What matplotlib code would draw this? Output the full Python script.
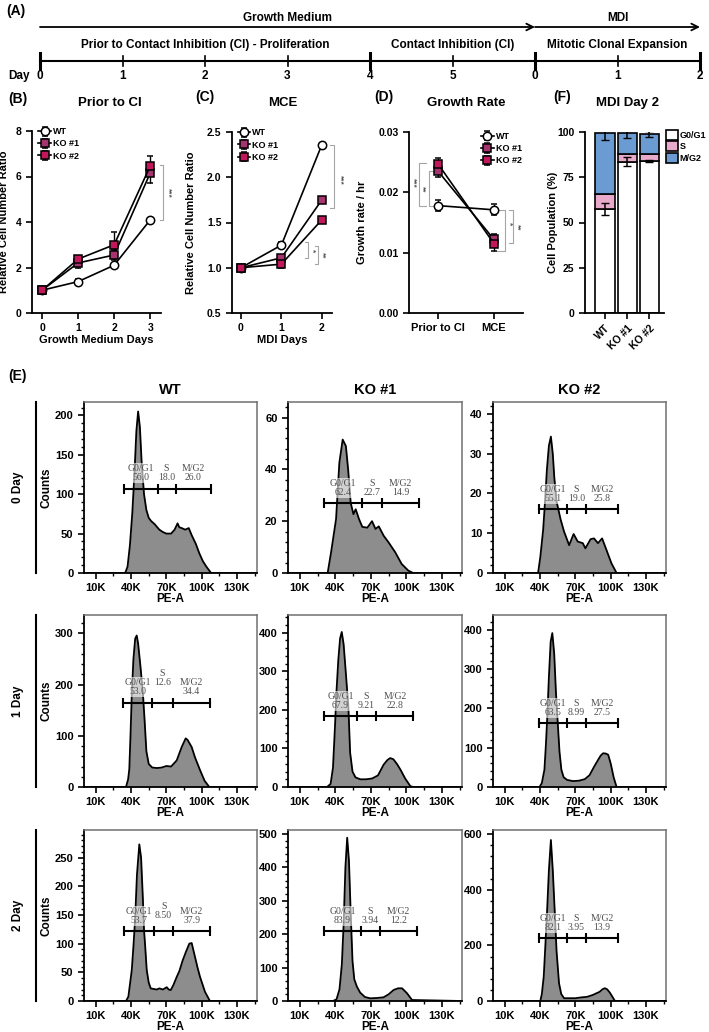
import matplotlib
matplotlib.use('Agg')
import matplotlib.pyplot as plt
from matplotlib.lines import Line2D
from matplotlib.ticker import AutoMinorLocator, FixedLocator

plt.rcParams['font.family'] = ['Liberation Sans', 'DejaVu Sans']
plt.rcParams['font.weight'] = 'bold'
plt.rcParams['axes.labelweight'] = 'bold'
plt.rcParams['axes.linewidth'] = 1.3

# ---------------- data ----------------
# (A) timeline
tl_days = [0, 1, 2, 3, 4, 5, 0, 1, 2]
tl_major = [0, 4, 6, 8]
phase_names = ['Prior to Contact Inhibition (CI) - Proliferation',
               'Contact Inhibition (CI)', 'Mitotic Clonal Expansion']
phase_mid = [2, 5, 7]
media_names = ['Growth Medium', 'MDI']
media_span = [(0, 6), (6, 8)]

# (B) relative cell number, growth medium
gm_days = [0, 1, 2, 3]
gm_wt = [1.0, 1.38, 2.1, 4.09]
gm_wt_err = [0.05, 0.1, 0.08, 0.06]
gm_ko1 = [1.0, 2.2, 2.55, 6.15]
gm_ko1_err = [0.05, 0.22, 0.2, 0.45]
gm_ko2 = [1.0, 2.37, 3.0, 6.46]
gm_ko2_err = [0.05, 0.15, 0.55, 0.42]

# (C) relative cell number, MDI
mdi_days = [0, 1, 2]
mdi_wt = [1.0, 1.25, 2.36]
mdi_wt_err = [0.01, 0.03, 0.01]
mdi_ko1 = [1.0, 1.11, 1.75]
mdi_ko1_err = [0.01, 0.03, 0.01]
mdi_ko2 = [1.0, 1.04, 1.53]
mdi_ko2_err = [0.01, 0.04, 0.01]

# (D) growth rate
phase_cats = ['Prior to CI', 'MCE']
rate_wt = [0.0178, 0.0171]
rate_wt_err = [0.0009, 0.0009]
rate_ko1 = [0.0235, 0.0122]
rate_ko1_err = [0.0010, 0.0009]
rate_ko2 = [0.0247, 0.0115]
rate_ko2_err = [0.0010, 0.0012]

# (F) cell cycle distribution, MDI day 2
genotypes = ['WT', 'KO #1', 'KO #2']
pop_g0g1 = [57.5, 83.5, 84.0]
pop_g0g1_err = [3.5, 2.5, 0.6]
pop_s = [8.5, 4.5, 4.0]
pop_mg2 = [33.5, 11.5, 11.0]
pop_mg2_err = [4.0, 3.0, 1.5]

# (E) flow histograms, PE-A in K vs counts
wt_d0_k = [0, 35, 37, 39, 41, 43, 44.5, 46, 47.5, 49, 51, 53, 55, 57, 60, 64, 67, 70, 74, 77, 79.5,
           81, 83, 86, 89, 91.5, 95, 98, 101, 104, 108, 147]
wt_d0_n = [0, 0, 8, 35, 75, 130, 180, 205, 185, 140, 100, 80, 70, 66, 62, 55, 52, 50, 50, 55, 63,
           58, 57, 55, 57, 48, 37, 25, 15, 8, 0, 0]
ko1_d0_k = [0, 33.5, 36.4, 40.6, 43.4, 46.2, 48.9, 50.8, 53, 55.3, 57.2, 60, 62.8, 67, 71, 73.9,
            76.7, 80.8, 85, 90.6, 96, 101.7, 105.8, 147]
ko1_d0_n = [0, 0, 8, 20.8, 42.6, 51.5, 49, 40, 27, 22.7, 24.6, 20.8, 17.8, 17.5, 20, 17,
            18, 14.4, 11.8, 8, 3.5, 0.9, 0, 0]
ko2_d0_k = [0, 38.3, 40.2, 42.6, 44, 45.8, 47.5, 49.2, 50.8, 52.1, 54, 57.5, 60.4, 64.7, 68.5, 72,
            76.3, 78.5, 82.9, 85.8, 89.2, 92.7, 96.4, 100.7, 105, 147]
ko2_d0_n = [0, 0, 4, 10.8, 17, 26, 32, 34.3, 30, 24, 18, 13.4, 10.4, 7, 9.8, 7.9,
            7.5, 6.2, 8.5, 8.7, 7.5, 8.7, 5.8, 2.4, 0, 0]
wt_d1_k = [0, 35.7, 37.5, 38.5, 39.5, 40.6, 42, 43.5, 44.8, 46, 48, 50, 51.5, 53, 55, 58, 62, 66,
           70, 74, 78.8, 83, 86.4, 88, 91.5, 94.3, 98.6, 102.5, 106.5, 147]
wt_d1_n = [0, 0, 15, 35, 100, 180, 250, 290, 296, 280, 235, 185, 130, 70, 45, 38, 37, 38,
           41, 40, 52, 78, 95, 92, 78, 58, 33, 12, 0, 0]
ko1_d1_k = [0, 33, 36, 38, 39.7, 41, 42.5, 44, 45.4, 47, 49, 51, 52.5, 54.5, 57, 61, 66, 71, 76,
            80.8, 84, 86.3, 89, 92, 95, 99, 103.4, 106, 147]
ko1_d1_n = [0, 0, 8, 50, 157, 250, 329, 385, 402, 370, 290, 208, 89, 40, 25, 20, 20, 22, 30,
            58, 70, 75, 72, 60, 45, 22, 2, 0, 0]
ko2_d1_k = [0, 39.5, 41.5, 43.7, 45, 46, 47.5, 49, 50.4, 52, 53.5, 55.2, 56.5, 58.1, 60, 63, 68,
            73, 78, 82, 85.8, 89.3, 91.5, 93.6, 96, 97.9, 100, 102.5, 105, 147]
ko2_d1_n = [0, 0, 10, 44, 110, 171, 280, 370, 392, 340, 240, 154, 90, 44, 25, 18, 15,
            16, 20, 30, 51, 69, 80, 86, 85, 82, 60, 25, 0, 0]
wt_d2_k = [0, 35.7, 37.7, 40.6, 42, 43.4, 45, 47, 48.5, 50, 51, 52, 53.3, 55, 56.7, 59, 61.8, 64,
           67, 70.3, 72, 73.7, 76, 78.8, 81, 83.9, 86.5, 89.5, 91.5, 94.3, 96.5, 98.6, 102.8, 107, 147]
wt_d2_n = [0, 0, 7.5, 54, 95, 141, 220, 273, 250, 180, 124, 95, 54, 32, 22, 21, 20, 22,
           20, 24, 20, 19, 28, 42, 52, 71, 85, 100, 101, 77, 58, 42, 16, 0, 0]
ko1_d2_k = [0, 38, 41, 43.5, 45.5, 47, 48.5, 50, 51.5, 53, 54.5, 56, 58.2, 61, 65, 69.4, 75,
            80.7, 85, 89.2, 93, 96.4, 100.6, 104.8, 147]
ko1_d2_n = [0, 0, 5, 35, 110, 230, 400, 489, 420, 260, 120, 65, 43, 25, 12, 8, 9,
            11, 20, 33, 38, 38, 23, 3, 0]
ko2_d2_k = [0, 40.2, 41.5, 43.1, 44.5, 46, 47.5, 49.2, 50.8, 52.4, 54, 56.1, 58, 60.4, 65, 70,
            75, 80, 85, 88, 90.6, 93, 95, 97, 99.3, 101.5, 103.6, 147]
ko2_d2_n = [0, 0, 25, 87, 200, 327, 470, 579, 470, 327, 180, 64, 25, 10, 10, 10,
            13, 15, 22, 28, 33, 42, 46, 42, 30, 15, 0, 0]

# gates: G0/G1 | S | M/G2 boundaries (K), gate height (counts), percentages
gate_bounds = [[34, 62.5, 77.8, 107.6], [30.2, 62.7, 79.5, 110.8], [39, 62.6, 79, 106],
               [33.4, 57.6, 75.4, 107], [30.4, 58.2, 74.5, 106], [39, 63, 79, 106],
               [34.3, 59.5, 75.9, 107], [30.8, 61.3, 77.7, 109], [39, 63, 79, 106]]
gate_level = [107, 27, 16, 165, 183, 163, 122, 210, 225]
gate_pct = [('56.0', '18.0', '26.0'), ('62.4', '22.7', '14.9'), ('55.1', '19.0', '25.8'),
            ('53.0', '12.6', '34.4'), ('67.9', '9.21', '22.8'), ('63.5', '8.99', '27.5'),
            ('53.7', '8.50', '37.9'), ('83.9', '3.94', '12.2'), ('82.1', '3.95', '13.9')]
hist_yticks = [[0, 50, 100, 150, 200], [0, 20, 40, 60], [0, 10, 20, 30, 40],
               [0, 100, 200, 300], [0, 100, 200, 300, 400], [0, 100, 200, 300, 400],
               [0, 50, 100, 150, 200, 250], [0, 100, 200, 300, 400, 500], [0, 200, 400, 600]]
pe_ticks = [10, 40, 70, 100, 130]
col_names = ['WT', 'KO #1', 'KO #2']
row_names = ['0 Day', '1 Day', '2 Day']

hist_k = [wt_d0_k, ko1_d0_k, ko2_d0_k, wt_d1_k, ko1_d1_k, ko2_d1_k, wt_d2_k, ko1_d2_k, ko2_d2_k]
hist_n = [wt_d0_n, ko1_d0_n, ko2_d0_n, wt_d1_n, ko1_d1_n, ko2_d1_n, wt_d2_n, ko1_d2_n, ko2_d2_n]

# ---------------- layout helpers ----------------
W, H = 709, 1032
KO1_C = '#A6356F'
KO2_C = '#C2185B'
fig = plt.figure(figsize=(W / 100, H / 100), dpi=100)


def rect(l, r, t, b):
    return [l / W, 1 - b / H, (r - l) / W, (b - t) / H]


def ftext(x, y, s, **kw):
    kw.setdefault('ha', 'center')
    kw.setdefault('va', 'center')
    fig.text(x / W, 1 - y / H, s, **kw)


def style_xy(ax):
    for s in ['top', 'right']:
        ax.spines[s].set_visible(False)
    ax.tick_params(direction='out', length=4, width=1.2, labelsize=7.5)


def bracket(ax, x, y0, y1, tick, label, lx, ly):
    ax.plot([x + tick, x, x, x + tick], [y0, y0, y1, y1], color='#a5a5a5', lw=0.8, clip_on=False)
    ax.text(lx, ly, label, rotation=270, ha='center', va='center', fontsize=6,
            color='#555555', clip_on=False)


def growth_lines(ax, x, series):
    for y, e, lab, mk, fc in series:
        ax.errorbar(x, y, yerr=e, color='black', lw=1.2, capsize=2.5, elinewidth=1,
                    marker=mk, ms=6 if mk == 'o' else 5.5, mfc=fc, mec='black', mew=1.1,
                    label=lab, zorder=3)


# ---------------- (A) timeline ----------------
ax_a = fig.add_axes(rect(0, W, 0, 90))
ax_a.set_xlim(-40 / 82.5, (W - 40) / 82.5)
ax_a.set_ylim(90, 0)
ax_a.axis('off')
for name, (a, b) in zip(media_names, media_span):
    ax_a.annotate('', xy=(b, 27), xytext=(a, 27),
                  arrowprops=dict(arrowstyle='->', lw=1.3, color='black', shrinkA=0, shrinkB=0,
                                  mutation_scale=12))
    ax_a.text((a + b) / 2, 18, name, ha='center', va='center', fontsize=8.5)
for name, m in zip(phase_names, phase_mid):
    ax_a.text(m, 45, name, ha='center', va='center', fontsize=8.5)
ax_a.plot([0, len(tl_days) - 1], [61, 61], color='black', lw=1.5)
for i, d in enumerate(tl_days):
    half = 8 if i in tl_major else 5
    lw = 2.2 if i in tl_major else 1.2
    ax_a.plot([i, i], [61 - half, 61 + half], color='black', lw=lw)
    ax_a.text(i, 76, str(d), ha='center', va='center', fontsize=8.5)
ax_a.text(-0.12, 76, 'Day', ha='right', va='center', fontsize=8.5)
ftext(6, 11, '(A)', ha='left', fontsize=10)

# ---------------- (B) ----------------
ax_b = fig.add_axes(rect(32, 161, 131, 313))
growth_lines(ax_b, gm_days, [(gm_wt, gm_wt_err, 'WT', 'o', 'white'),
                             (gm_ko1, gm_ko1_err, 'KO #1', 's', KO1_C),
                             (gm_ko2, gm_ko2_err, 'KO #2', 's', KO2_C)])
ax_b.set_xlim(-0.28, 3.3)
ax_b.set_ylim(0, 8)
ax_b.set_xticks(gm_days)
ax_b.set_yticks([0, 2, 4, 6, 8])
style_xy(ax_b)
ax_b.set_xlabel('Growth Medium Days', fontsize=8, labelpad=1)
ax_b.set_ylabel('Relative Cell Number Ratio', fontsize=8)
ax_b.yaxis.set_label_coords(-0.175, 0.5)
ax_b.legend(loc='upper left', bbox_to_anchor=(0.02, 1.04), frameon=False, fontsize=6.5,
            handlelength=1.4, handletextpad=0.2, labelspacing=0.35, borderaxespad=0)
bracket(ax_b, 3.36, 6.5, 4.1, -0.08, '***', 3.5, 5.3)
ftext(8, 99, '(B)', ha='left', fontsize=10)
ftext(110, 103, 'Prior to CI', fontsize=9.5)

# ---------------- (C) ----------------
ax_c = fig.add_axes(rect(232, 332, 132, 313))
growth_lines(ax_c, mdi_days, [(mdi_wt, mdi_wt_err, 'WT', 'o', 'white'),
                              (mdi_ko1, mdi_ko1_err, 'KO #1', 's', KO1_C),
                              (mdi_ko2, mdi_ko2_err, 'KO #2', 's', KO2_C)])
ax_c.set_xlim(-0.22, 2.25)
ax_c.set_ylim(0.5, 2.5)
ax_c.set_xticks(mdi_days)
ax_c.set_yticks([0.5, 1.0, 1.5, 2.0, 2.5])
ax_c.set_yticklabels(['0.5', '1.0', '1.5', '2.0', '2.5'])
style_xy(ax_c)
ax_c.set_xlabel('MDI Days', fontsize=8, labelpad=1)
ax_c.set_ylabel('Relative Cell Number Ratio', fontsize=8)
ax_c.yaxis.set_label_coords(-0.36, 0.5)
ax_c.legend(loc='upper left', bbox_to_anchor=(0.02, 1.04), frameon=False, fontsize=6.5,
            handlelength=1.4, handletextpad=0.2, labelspacing=0.35, borderaxespad=0)
bracket(ax_c, 2.31, 2.36, 1.66, -0.12, '***', 2.45, 1.97)
bracket(ax_c, 1.65, 1.28, 1.11, -0.07, '*', 1.77, 1.19)
bracket(ax_c, 1.9, 1.24, 1.04, -0.07, '**', 2.02, 1.14)
ftext(195, 97, '(C)', ha='left', fontsize=10)
ftext(283, 103, 'MCE', fontsize=9.5)

# ---------------- (D) ----------------
ax_d = fig.add_axes(rect(409, 523, 132, 313))
growth_lines(ax_d, [0, 1], [(rate_wt, rate_wt_err, 'WT', 'o', 'white'),
                            (rate_ko1, rate_ko1_err, 'KO #1', 's', KO1_C),
                            (rate_ko2, rate_ko2_err, 'KO #2', 's', KO2_C)])
ax_d.set_xlim(-0.52, 1.52)
ax_d.set_ylim(0, 0.03)
ax_d.set_xticks([0, 1])
ax_d.set_xticklabels(phase_cats)
ax_d.set_yticks([0, 0.01, 0.02, 0.03])
ax_d.set_yticklabels(['0.00', '0.01', '0.02', '0.03'])
style_xy(ax_d)
ax_d.tick_params(axis='x', labelsize=8)
ax_d.set_ylabel('Growth rate / hr', fontsize=8)
ax_d.yaxis.set_label_coords(-0.37, 0.5)
ax_d.legend(loc='upper right', bbox_to_anchor=(1.02, 1.02), frameon=False, fontsize=6.5,
            handlelength=1.4, handletextpad=0.2, labelspacing=0.35, borderaxespad=0)
bracket(ax_d, -0.334, 0.0248, 0.0178, 0.12, '***', -0.44, 0.0215)
bracket(ax_d, -0.17, 0.0236, 0.0178, 0.1, '**', -0.29, 0.0205)
bracket(ax_d, 1.196, 0.017, 0.0103, -0.14, '*', 1.27, 0.0148)
bracket(ax_d, 1.345, 0.017, 0.0116, -0.08, '**', 1.42, 0.0142)
ftext(374, 97, '(D)', ha='left', fontsize=10)
ftext(466, 103, 'Growth Rate', fontsize=9.5)

# ---------------- (F) ----------------
ax_f = fig.add_axes(rect(585, 664, 132, 313))
xs = range(len(genotypes))
s_bottom = pop_g0g1
m_bottom = [a + b for a, b in zip(pop_g0g1, pop_s)]
ax_f.bar(xs, pop_g0g1, width=0.86, color='white', edgecolor='black', lw=1.2, label='G0/G1')
ax_f.bar(xs, pop_s, bottom=s_bottom, width=0.86, color='#E8A9CB', edgecolor='black', lw=1.2,
         label='S')
ax_f.bar(xs, pop_mg2, bottom=m_bottom, width=0.86, color='#6B9BD3', edgecolor='black', lw=1.2,
         label='M/G2')
ax_f.errorbar(xs, pop_g0g1, yerr=pop_g0g1_err, fmt='none', ecolor='black', elinewidth=1.1,
              capsize=3)
ax_f.errorbar(xs, [a + b for a, b in zip(m_bottom, pop_mg2)], yerr=pop_mg2_err, fmt='none',
              ecolor='black', elinewidth=1.1, capsize=3)
ax_f.set_xlim(-0.9, 2.66)
ax_f.set_ylim(0, 100)
ax_f.set_yticks([0, 25, 50, 75, 100])
ax_f.set_xticks(list(xs))
ax_f.set_xticklabels(genotypes, rotation=45, ha='right', rotation_mode='anchor')
style_xy(ax_f)
ax_f.set_ylabel('Cell Population (%)', fontsize=8)
ax_f.yaxis.set_label_coords(-0.34, 0.5)
ax_f.legend(loc='upper left', bbox_to_anchor=(1.03, 1.01), frameon=False, fontsize=6.5,
            handlelength=1.3, handleheight=1.3, handletextpad=0.15, labelspacing=0.15,
            borderaxespad=0, borderpad=0)
ftext(553, 97, '(F)', ha='left', fontsize=10)
ftext(628, 103, 'MDI Day 2', fontsize=9.5)

# ---------------- (E) flow histograms ----------------
cols = [(84, 257), (288, 462), (493, 666)]
rows = [(402, 573), (615, 787), (830, 1001)]
ymax = [217, 66, 43, 336, 446, 438, 298, 512, 615]
s_lift = [0, 0, 0, 7, 0, 0, 3.5, 0, 0]

ftext(8, 376, '(E)', ha='left', fontsize=10)
for c, name in enumerate(col_names):
    ftext((cols[c][0] + cols[c][1]) / 2, 390, name, fontsize=10.5)

for r in range(3):
    t, b = rows[r]
    fig.add_artist(Line2D([35.7 / W] * 2, [1 - t / H, 1 - b / H], color='black', lw=1.5))
    ftext(18, (t + b) / 2, row_names[r], rotation=90, fontsize=8.5)
    for c in range(3):
        i = r * 3 + c
        ax = fig.add_axes(rect(cols[c][0], cols[c][1], t, b))
        ax.fill_between(hist_k[i], hist_n[i], color='#8d8d8d', lw=0)
        ax.plot(hist_k[i], hist_n[i], color='black', lw=1.3)
        ax.set_xlim(0, 147)
        ax.set_ylim(0, ymax[i])
        ax.set_xticks(pe_ticks)
        ax.set_xticklabels([f'{p}K' for p in pe_ticks])
        ax.xaxis.set_minor_locator(FixedLocator([25, 55, 85, 115, 145]))
        ax.set_yticks(hist_yticks[i])
        ax.yaxis.set_minor_locator(AutoMinorLocator(5))
        ax.tick_params(which='major', direction='out', length=4, width=1.2, labelsize=8)
        ax.tick_params(which='minor', direction='out', length=2, width=1.0)
        for s in ['top', 'right']:
            ax.spines[s].set_color('#707070')
            ax.spines[s].set_linewidth(1.1)
        ax.set_xlabel('PE-A', fontsize=8.5, labelpad=0)
        if c == 0:
            ax.set_ylabel('Counts', fontsize=8.5, labelpad=2)
        # gate
        gb = gate_bounds[i]
        lv = gate_level[i]
        ax.plot([gb[0], gb[-1]], [lv, lv], color='black', lw=1.5)
        ax.plot(gb, [lv] * 4, ls='none', marker='|', ms=7, mew=1.5, color='black')
        names = ['G0/G1', 'S', 'M/G2']
        for j in range(3):
            lift = s_lift[i] if j == 1 else 0
            kw = dict(bbox=dict(boxstyle='square,pad=0.1', fc='white', ec='none', alpha=0.6)) if j == 0 else {}
            ax.annotate(f'{names[j]}\n{gate_pct[i][j]}', xy=((gb[j] + gb[j + 1]) / 2, lv),
                        xytext=(0, 4.5 + lift), textcoords='offset points', ha='center',
                        va='bottom', fontsize=7, family='Liberation Serif',
                        fontweight='normal', color='#4f4f4f', linespacing=1.0, **kw)

fig.savefig('out.png', dpi=100)
